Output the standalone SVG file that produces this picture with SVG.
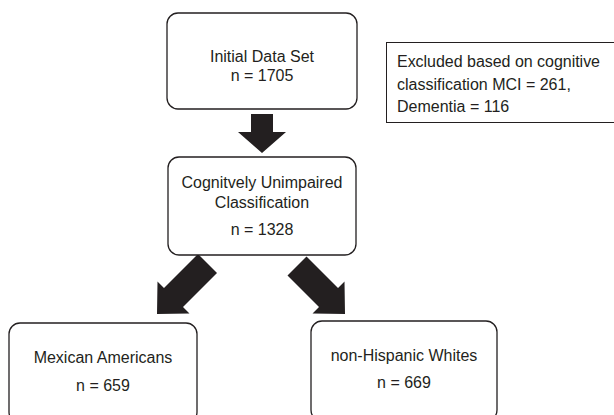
<svg xmlns="http://www.w3.org/2000/svg" width="614" height="415" viewBox="0 0 614 415">
<style>
.box{fill:#fff;stroke:#231f20;stroke-width:1.3}
.note{fill:#fff;stroke:#231f20;stroke-width:1}
.t{font-family:"Liberation Sans",Arial,sans-serif;font-size:16px;fill:#231f20}
.c{text-anchor:middle}
.arr{fill:#231f20}
</style>
<rect width="614" height="415" fill="#fff"/>
<g id="connectors">
<polygon class="arr" points="251,114 273,114 273,132 286,132 262,153 238,132 251,132"/>
<polygon class="arr" points="198,254 217,273 183,307 189.5,313.5 157,314 157.5,281.5 164,288"/>
<polygon class="arr" points="306.5,256.5 287.5,275.5 319,307 312.5,313.5 345,314 344.5,281.5 338,288"/>
</g>
<g id="initial">
<rect class="box" x="167" y="13" width="190" height="96" rx="11"/>
<text class="t c" x="262" y="62">Initial Data Set</text>
<text class="t c" x="262" y="81">n = 1705</text>
</g>
<g id="excluded">
<rect class="note" x="386.5" y="42.5" width="232" height="80"/>
<text class="t" x="397" y="67" textLength="203" lengthAdjust="spacing">Excluded based on cognitive</text>
<text class="t" x="397" y="90">classification MCI = 261,</text>
<text class="t" x="397" y="112">Dementia = 116</text>
</g>
<g id="unimpaired">
<rect class="box" x="168" y="157" width="188" height="98" rx="11"/>
<text class="t c" x="262" y="188">Cognitvely Unimpaired</text>
<text class="t c" x="262" y="208">Classification</text>
<text class="t c" x="262" y="235">n = 1328</text>
</g>
<g id="mexican">
<rect class="box" x="9" y="323" width="188" height="100" rx="11"/>
<text class="t c" x="103" y="363">Mexican Americans</text>
<text class="t c" x="103" y="391">n = 659</text>
</g>
<g id="nhw">
<rect class="box" x="311" y="321" width="186" height="100" rx="11"/>
<text class="t c" x="404" y="361">non-Hispanic Whites</text>
<text class="t c" x="404" y="388">n = 669</text>
</g>
</svg>
